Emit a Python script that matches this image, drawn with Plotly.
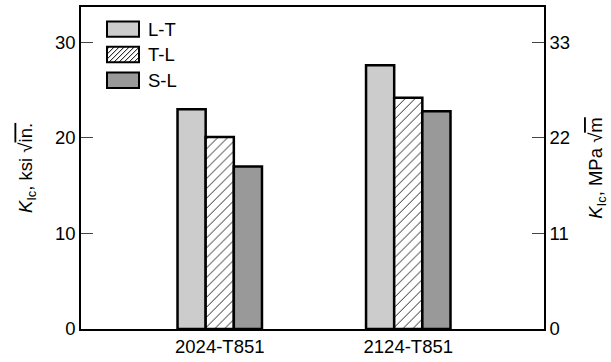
import plotly.graph_objects as go

# Plane-strain fracture toughness of two aluminium plate alloys
alloys = ["2024-T851", "2124-T851"]
orientations = ["L-T", "T-L", "S-L"]
kic_lt = [23.0, 27.6]
kic_tl = [20.1, 24.2]
kic_sl = [17.0, 22.8]

ksi_to_mpa = 1.0988  # 1 ksi*sqrt(in.) in MPa*sqrt(m)
y_top = 33.7

font_family = "Liberation Sans, Arial, Helvetica, sans-serif"
fs = 18.5

W, H = 611, 362
ML, MR, MT, MB = 81, 67, 5, 33
PW, PH = W - ML - MR, H - MT - MB

fills = {
    "L-T": dict(color="#cccccc"),
    "T-L": dict(color="white",
                pattern=dict(shape="/", fgcolor="black", bgcolor="white",
                             size=7, solidity=0.12, fillmode="replace")),
    "S-L": dict(color="#999999"),
}
values = {"L-T": kic_lt, "T-L": kic_tl, "S-L": kic_sl}

fig = go.Figure()
for name in orientations:
    mk = dict(fills[name])
    mk["line"] = dict(color="black", width=2.5)
    fig.add_trace(go.Bar(x=alloys, y=values[name], name=name, marker=mk,
                         showlegend=False))

# invisible trace carrying the metric axis
fig.add_trace(go.Scatter(x=alloys, y=[0, 0], yaxis="y2", mode="markers",
                         marker=dict(opacity=0), showlegend=False, hoverinfo="skip"))


def px_to_paper(px, py):
    return (px - ML) / PW, (H - MB - py) / PH


# legend key: wide swatches with labels, top-left inside the frame
key_x0, key_x1 = 107, 139
key_h = 15.5
key_tops = [19.5, 45, 71]
shapes, annotations = [], []
swatch_fill = {"L-T": "#cccccc", "T-L": "white", "S-L": "#999999"}
for name, top in zip(orientations, key_tops):
    bot = top + key_h
    ax0, ay1 = px_to_paper(key_x0, top)
    ax1, ay0 = px_to_paper(key_x1, bot)
    shapes.append(dict(type="rect", xref="paper", yref="paper", x0=ax0, x1=ax1,
                       y0=ay0, y1=ay1, fillcolor=swatch_fill[name],
                       line=dict(color="black", width=2), layer="above"))
    if name == "T-L":
        step = 5.0
        segs = []
        c = key_x0 + top + step / 2
        while c < key_x1 + bot:
            xa = max(key_x0, c - bot)
            xb = min(key_x1, c - top)
            if xb > xa:
                pa = px_to_paper(xa, c - xa)
                pb = px_to_paper(xb, c - xb)
                segs.append(f"M{pa[0]:.5f},{pa[1]:.5f}L{pb[0]:.5f},{pb[1]:.5f}")
            c += step
        shapes.append(dict(type="path", xref="paper", yref="paper", path="".join(segs),
                           line=dict(color="black", width=1), layer="above"))
    tx, ty = px_to_paper(key_x1 + 7, top + key_h / 2)
    annotations.append(dict(x=tx, y=ty, xref="paper", yref="paper", text=name,
                            showarrow=False, xanchor="left", yanchor="middle",
                            font=dict(size=fs)))

fig.update_layout(
    width=W, height=H,
    margin=dict(l=ML, r=MR, t=MT, b=MB),
    paper_bgcolor="white", plot_bgcolor="white",
    font=dict(family=font_family, size=fs, color="black"),
    barmode="group", bargap=0.552, bargroupgap=0,
    showlegend=False,
    shapes=shapes, annotations=annotations,
    xaxis=dict(range=[-0.736, 1.72], showline=True, linecolor="black", linewidth=1.6,
               mirror=True, ticks="", showgrid=False, tickfont=dict(size=fs)),
    yaxis=dict(range=[0, y_top], tickvals=[0, 10, 20, 30], showline=True,
               linecolor="black", linewidth=1.6, ticks="inside", ticklen=12,
               tickcolor="#444444", tickwidth=1.2, showgrid=False, zeroline=False,
               tickfont=dict(size=fs),
               title=dict(text="<i>K</i><sub>Ic</sub>, ksi √<span style='text-decoration:overline'>in.</span>",
                          font=dict(size=fs), standoff=17)),
    yaxis2=dict(range=[0, y_top * ksi_to_mpa], tickvals=[0, 11, 22, 33], overlaying="y",
                side="right", showline=True, linecolor="black", linewidth=1.6,
                ticks="inside", ticklen=12, tickcolor="#444444", tickwidth=1.2,
                showgrid=False, zeroline=False, tickfont=dict(size=fs),
                title=dict(text="<i>K</i><sub>Ic</sub>, MPa √<span style='text-decoration:overline'>m</span>",
                           font=dict(size=fs), standoff=20)),
)

fig.write_html("out.html")
